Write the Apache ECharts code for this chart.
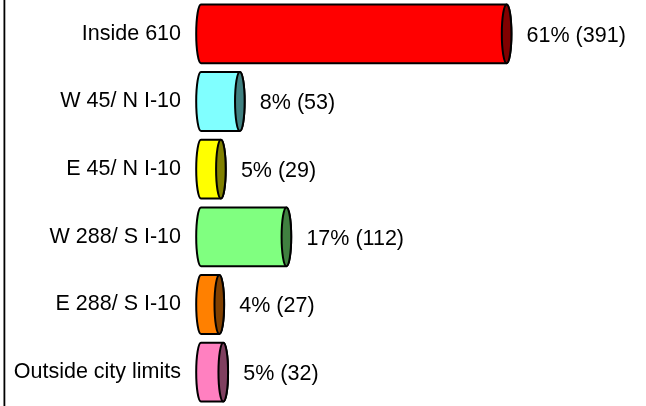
<!DOCTYPE html>
<html>
<head>
<meta charset="utf-8">
<script src="https://cdn.jsdelivr.net/npm/echarts@6/dist/echarts.min.js"></script>
<style>html,body{margin:0;padding:0;background:#fff}#c{width:646px;height:406px}</style>
</head>
<body>
<div id="c"></div>
<script>
const categories = ['Inside 610', 'W 45/ N I-10', 'E 45/ N I-10', 'W 288/ S I-10', 'E 288/ S I-10', 'Outside city limits'];
const counts = [391, 53, 29, 112, 27, 32];
const percents = [61, 8, 5, 17, 4, 5];
const faceColors = ['#FF0000', '#80FFFF', '#FFFF00', '#80FF80', '#FF8000', '#FF80C0'];
const endColors = ['#800000', '#408080', '#808000', '#408040', '#804000', '#804060'];

const chart = echarts.init(document.getElementById('c'), null, {renderer: 'canvas'});
const FONT = 'Liberation Sans, Arial, sans-serif';
const FS = 21.5;

const data = counts.map((v, i) => [v, i]);

chart.setOption({
  animation: false,
  backgroundColor: '#fff',
  grid: {left: 198, right: 6, top: -0.5, height: 408},
  xAxis: {type: 'value', min: 0, max: 560, show: false},
  yAxis: {
    type: 'category', data: categories, inverse: true,
    axisLine: {show: false}, axisTick: {show: false}, splitLine: {show: false},
    axisLabel: {color: '#000', fontSize: FS, fontFamily: FONT, margin: 17, padding: [3, 0, 0, 0]}
  },
  graphic: [{type: 'rect', shape: {x: 3.5, y: 0, width: 1.8, height: 406}, style: {fill: '#000'}}],
  series: [{
    type: 'custom',
    data: data,
    encode: {x: 0, y: 1},
    renderItem: function (params, api) {
      const v = api.value(0), c = api.value(1);
      const p0 = api.coord([0, c]);
      const p1 = api.coord([v, c]);
      const band = api.size([0, 1])[1];
      const ry = band * 0.87 / 2;
      const rx = 4.8;
      const xL = p0[0] + 3, xR = p1[0];
      const yT = p0[1] - ry, yB = p0[1] + ry;
      const body = `M${xL},${yT} L${xR},${yT} A${rx},${ry} 0 0 1 ${xR},${yB} L${xL},${yB} A${rx},${ry} 0 0 1 ${xL},${yT} Z`;
      const cap = `M${xR},${yT} A${rx},${ry} 0 0 1 ${xR},${yB} A${rx},${ry} 0 0 1 ${xR},${yT} Z`;
      const idx = params.dataIndex;
      return {
        type: 'group',
        children: [
          {type: 'path', shape: {pathData: body}, style: {fill: faceColors[idx], stroke: '#000', lineWidth: 2}},
          {type: 'path', shape: {pathData: cap}, style: {fill: endColors[idx], stroke: '#000', lineWidth: 2}},
          {type: 'text', style: {x: xR + 20, y: p0[1] + 2, text: percents[idx] + '% (' + counts[idx] + ')', fill: '#000', fontSize: FS, fontFamily: FONT, verticalAlign: 'middle', align: 'left'}}
        ]
      };
    }
  }]
});
</script>
</body>
</html>
